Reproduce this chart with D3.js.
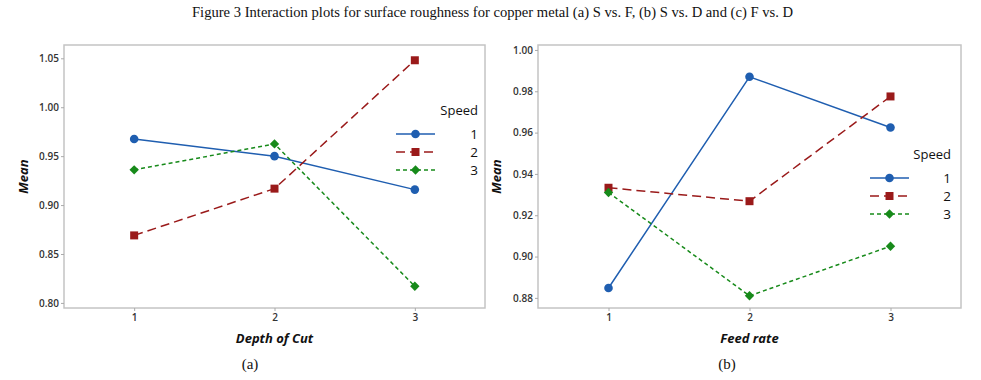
<!DOCTYPE html>
<html><head><meta charset="utf-8">
<script src="https://cdn.jsdelivr.net/npm/d3@7"></script>
<style>
body{margin:0;background:#fff;}
svg{display:block;}
</style></head>
<body>
<svg id="c" width="981" height="380"></svg>
<script>
const levels = [1, 2, 3];
const speeds = ["1", "2", "3"];
// Panel (a): Depth of Cut
const aSpeed1 = [0.9675, 0.950, 0.9158];
const aSpeed2 = [0.869, 0.9168, 1.048];
const aSpeed3 = [0.936, 0.9625, 0.817];
const aTicks = [0.80, 0.85, 0.90, 0.95, 1.00, 1.05];
// Panel (b): Feed rate
const bSpeed1 = [0.8848, 0.987, 0.9625];
const bSpeed2 = [0.9333, 0.9268, 0.9775];
const bSpeed3 = [0.931, 0.881, 0.905];
const bTicks = [0.88, 0.90, 0.92, 0.94, 0.96, 0.98, 1.00];

const titleText = "Figure 3 Interaction plots for surface roughness for copper metal (a) S vs. F, (b) S vs. D and (c) F vs. D";

const colors = ["#1f5eb0", "#9a1a1a", "#178a1a"];
const dashes = [null, "9,5", "4,3"];
const markers = [d3.symbolCircle, d3.symbolSquare, d3.symbolSquare];
const markerSizes = [58, 64, 44];
const markerRot = [0, 0, 45];
const sansFont = "'Open Sans', 'Noto Sans', sans-serif";

const svg = d3.select("#c");

svg.append("text").attr("x", 192).attr("y", 17)
  .attr("font-family", "'Liberation Serif', 'Times New Roman', serif")
  .attr("font-size", 15).attr("fill", "#111")
  .attr("textLength", 601).attr("lengthAdjust", "spacingAndGlyphs")
  .text(titleText);

function panel(opts) {
  const g = svg.append("g");
  const x = d3.scaleLinear().domain([0.5, 3.5]).range([opts.left, opts.right]);
  const y = d3.scaleLinear().domain(opts.yDomain).range([opts.bottom, opts.top]);

  g.append("rect").attr("x", opts.left).attr("y", opts.top)
    .attr("width", opts.right - opts.left).attr("height", opts.bottom - opts.top)
    .attr("fill", "none").attr("stroke", "#c4c4c4").attr("stroke-width", 1.5);

  const yAxis = g.append("g").attr("transform", `translate(${opts.left},0)`)
    .call(d3.axisLeft(y).tickValues(opts.ticks).tickFormat(d3.format(".2f")).tickSize(3).tickSizeOuter(0));
  yAxis.select(".domain").remove();
  yAxis.selectAll(".tick line").attr("stroke", "#aaa");
  yAxis.selectAll("text").attr("font-family", sansFont).attr("font-size", 10)
    .attr("font-weight", 600).attr("fill", "#333").attr("x", -5);

  const xAxis = g.append("g").attr("transform", `translate(0,${opts.bottom})`)
    .call(d3.axisBottom(x).tickValues(levels).tickFormat(d3.format("d")).tickSize(3).tickSizeOuter(0));
  xAxis.select(".domain").remove();
  xAxis.selectAll(".tick line").attr("stroke", "#aaa");
  xAxis.selectAll("text").attr("font-family", sansFont).attr("font-size", 10)
    .attr("font-weight", 600).attr("fill", "#333").attr("y", 6);

  g.append("text").attr("x", x(2)).attr("y", opts.bottom + 35)
    .attr("text-anchor", "middle").attr("font-family", sansFont)
    .attr("font-size", 13).attr("font-weight", 700).attr("font-style", "italic").attr("fill", "#111")
    .text(opts.xLabel);

  g.append("text").attr("transform", `translate(${opts.meanX},${(opts.top + opts.bottom) / 2}) rotate(-90)`)
    .attr("text-anchor", "middle").attr("font-family", sansFont)
    .attr("font-size", 13).attr("font-weight", 700).attr("font-style", "italic").attr("fill", "#111")
    .text("Mean");

  const line = d3.line().x((d, i) => x(levels[i])).y(d => y(d));
  opts.series.forEach((s, k) => {
    g.append("path").datum(s).attr("d", line).attr("fill", "none")
      .attr("stroke", colors[k]).attr("stroke-width", 1.5)
      .attr("stroke-dasharray", dashes[k]);
  });
  opts.series.forEach((s, k) => {
    g.selectAll(null).data(s).enter().append("path")
      .attr("transform", (d, i) => `translate(${x(levels[i])},${y(d)}) rotate(${markerRot[k]})`)
      .attr("d", d3.symbol().type(markers[k]).size(markerSizes[k]))
      .attr("fill", colors[k]);
  });

  // legend
  const lg = g.append("g");
  lg.append("text").attr("x", opts.legRight).attr("y", opts.legTop)
    .attr("text-anchor", "end").attr("font-family", sansFont).attr("font-size", 13).attr("fill", "#111")
    .text("Speed");
  speeds.forEach((s, k) => {
    const yy = opts.legTop + 19 + k * 18;
    lg.append("line").attr("x1", opts.legLineX).attr("x2", opts.legLineX + 39)
      .attr("y1", yy).attr("y2", yy).attr("stroke", colors[k]).attr("stroke-width", 1.5)
      .attr("stroke-dasharray", dashes[k]);
    lg.append("path").attr("transform", `translate(${opts.legLineX + 19.5},${yy}) rotate(${markerRot[k]})`)
      .attr("d", d3.symbol().type(markers[k]).size(markerSizes[k])).attr("fill", colors[k]);
    lg.append("text").attr("x", opts.legRight).attr("y", yy + 5)
      .attr("text-anchor", "end").attr("font-family", sansFont).attr("font-size", 13.5).attr("fill", "#111")
      .text(s);
  });

  svg.append("text").attr("x", opts.capX).attr("y", 369).attr("text-anchor", "middle")
    .attr("font-family", "'Liberation Serif', 'Times New Roman', serif").attr("font-size", 15).attr("fill", "#111")
    .text(opts.caption);
}

panel({
  left: 64, right: 485, top: 45, bottom: 308,
  yDomain: [0.7948, 1.0636], ticks: aTicks,
  series: [aSpeed1, aSpeed2, aSpeed3],
  xLabel: "Depth of Cut", meanX: 28,
  legLineX: 396, legTop: 115, legRight: 478,
  capX: 250, caption: "(a)"
});

panel({
  left: 538, right: 961, top: 45, bottom: 308,
  yDomain: [0.8751, 1.0024], ticks: bTicks,
  series: [bSpeed1, bSpeed2, bSpeed3],
  xLabel: "Feed rate", meanX: 501,
  legLineX: 870, legTop: 159, legRight: 951,
  capX: 727, caption: "(b)"
});
</script>
</body></html>
